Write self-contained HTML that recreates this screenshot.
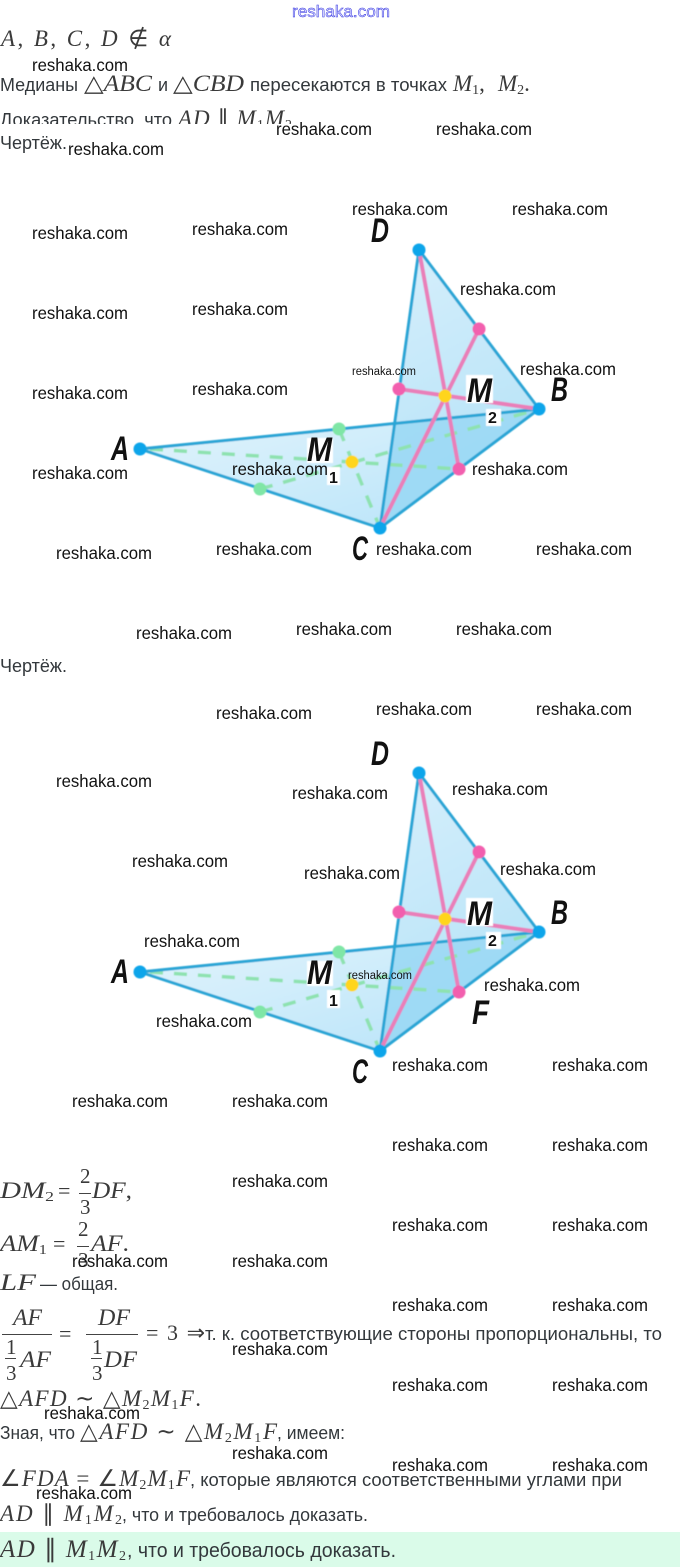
<!DOCTYPE html>
<html><head><meta charset="utf-8"><style>
html,body{margin:0;padding:0;background:#fff}
svg{display:block}
.w{font:17.5px "Liberation Sans",sans-serif;fill:#111}
.s{font:11.5px "Liberation Sans",sans-serif;fill:#111}
.t{font:18px "Liberation Sans",sans-serif;fill:#33383c}
.b{font:20px "Liberation Sans",sans-serif;fill:#33383c}
.m{font:italic 23px "Liberation Serif",serif;fill:#3a3a3a}
.h{font:italic 25px "Liberation Serif",serif;fill:#3a3a3a}
.r{font:22px "Liberation Serif",serif;fill:#3a3a3a}
.g{font:21px "Liberation Serif",serif;fill:#3a3a3a}
.u{font-size:14px;font-style:normal}
.o{font-style:normal}
.l{font:italic bold 34px "Liberation Sans",sans-serif;fill:#111}
.n{font:bold 16px "Liberation Sans",sans-serif;fill:#111}
</style></head><body>
<svg xmlns="http://www.w3.org/2000/svg" width="680" height="1567" viewBox="0 0 680 1567">
<defs>
<filter id="bl" x="-5%" y="-5%" width="110%" height="110%"><feGaussianBlur stdDeviation="0.45"/></filter>
<linearGradient id="a" x1="0" y1="0" x2="1" y2="1"><stop offset="0" stop-color="#e4f5fd"/><stop offset="1" stop-color="#b5e2f8"/></linearGradient>
<linearGradient id="b" x1="0.3" y1="0" x2="0.6" y2="1"><stop offset="0" stop-color="#d4eefb"/><stop offset="1" stop-color="#b2e1f7"/></linearGradient>
<g id="dg" filter="url(#bl)">
<polygon points="140,449 539,409 380,528" fill="url(#a)"/>
<polygon points="419,250 539,409 380,528" fill="url(#b)"/>
<polygon points="396,424 539,409 380,528" fill="#8fd4f3" fill-opacity=".65"/>
<g fill="none" stroke="#8ee2b0" stroke-width="3.5" stroke-dasharray="13 11">
<line x1="150" y1="449" x2="459" y2="469"/><line x1="339" y1="429" x2="380" y2="528"/><line x1="260" y1="489" x2="539" y2="409"/>
</g>
<g stroke="#29a5d5" stroke-width="3" fill="none">
<line x1="140" y1="449" x2="539" y2="409"/><line x1="140" y1="449" x2="380" y2="528"/><line x1="380" y1="528" x2="539" y2="409"/><line x1="419" y1="250" x2="380" y2="528"/><line x1="419" y1="250" x2="539" y2="409"/>
</g>
<g stroke="#e97fb9" stroke-width="4" fill="none">
<line x1="419" y1="250" x2="459" y2="469"/><line x1="380" y1="528" x2="479" y2="329"/><line x1="399" y1="389" x2="539" y2="409"/>
</g>
<g fill="#0ea5ea"><circle cx="140" cy="449" r="6.5"/><circle cx="539" cy="409" r="6.5"/><circle cx="380" cy="528" r="6.5"/><circle cx="419" cy="250" r="6.5"/></g>
<g fill="#7fe6a6"><circle cx="339" cy="429" r="6.5"/><circle cx="260" cy="489" r="6.5"/></g>
<g fill="#f25fae"><circle cx="479" cy="329" r="6.5"/><circle cx="399" cy="389" r="6.5"/><circle cx="459" cy="469" r="6.5"/></g>
<g fill="#ffd51a"><circle cx="352" cy="462" r="6.5"/><circle cx="445" cy="396" r="6.5"/></g>
<g fill="#fff"><rect x="466" y="375" width="27" height="28"/><rect x="486" y="409" width="15" height="17"/><rect x="307" y="438" width="26" height="25"/><rect x="327" y="467" width="13" height="18"/></g>
</g>
</defs>

<text x="292" y="17" style="font:17px 'Liberation Sans',sans-serif" fill="#dfe0ff" stroke="#3030e0" stroke-width=".5" textLength="98" lengthAdjust="spacingAndGlyphs">reshaka.com</text>

<text class="m" x="1" y="46" textLength="170" xml:space="preserve">A<tspan class="o">,</tspan> B<tspan class="o">,</tspan> C<tspan class="o">,</tspan> D <tspan class="o">∉</tspan> α</text>
<text class="t" x="0" y="91" textLength="78" lengthAdjust="spacingAndGlyphs">Медианы</text>
<text class="m" x="84" y="91" textLength="68" lengthAdjust="spacingAndGlyphs"><tspan class="o">△</tspan>ABC</text>
<text class="t" x="158" y="91">и</text>
<text class="m" x="173" y="91" textLength="71" lengthAdjust="spacingAndGlyphs"><tspan class="o">△</tspan>CBD</text>
<text class="t" x="250" y="91" textLength="197" lengthAdjust="spacingAndGlyphs">пересекаются в точках</text>
<text class="m" x="453" y="91">M<tspan class="u" dy="3">1</tspan><tspan class="o" dy="-3">,</tspan></text>
<text class="m" x="498" y="91">M<tspan class="u" dy="3">2</tspan><tspan class="o" dy="-3">.</tspan></text>
<text class="t" x="0" y="126" textLength="172" lengthAdjust="spacingAndGlyphs">Доказательство, что</text>
<text class="m" x="178" y="126" textLength="114">AD <tspan class="o">∥</tspan> M<tspan class="u" dy="3">1</tspan><tspan dy="-3">M</tspan><tspan class="u" dy="3">2</tspan></text>
<rect x="0" y="124" width="340" height="12" fill="#fff"/>
<text class="t" x="0" y="149" textLength="67" lengthAdjust="spacingAndGlyphs">Чертёж.</text>
<text class="t" x="0" y="672" textLength="67" lengthAdjust="spacingAndGlyphs">Чертёж.</text>

<use href="#dg"/>
<use href="#dg" y="523"/>

<g class="l">
<text x="371" y="242" textLength="18" lengthAdjust="spacingAndGlyphs">D</text>
<text x="111" y="460" textLength="18" lengthAdjust="spacingAndGlyphs">A</text>
<text x="551" y="401" textLength="17" lengthAdjust="spacingAndGlyphs">B</text>
<text x="352" y="560" textLength="16" lengthAdjust="spacingAndGlyphs">C</text>
<text x="467" y="402" textLength="25" lengthAdjust="spacingAndGlyphs">M</text>
<text x="307" y="461" textLength="25" lengthAdjust="spacingAndGlyphs">M</text>
<text x="371" y="765" textLength="18" lengthAdjust="spacingAndGlyphs">D</text>
<text x="111" y="983" textLength="18" lengthAdjust="spacingAndGlyphs">A</text>
<text x="551" y="924" textLength="17" lengthAdjust="spacingAndGlyphs">B</text>
<text x="352" y="1083" textLength="16" lengthAdjust="spacingAndGlyphs">C</text>
<text x="467" y="925" textLength="25" lengthAdjust="spacingAndGlyphs">M</text>
<text x="307" y="984" textLength="25" lengthAdjust="spacingAndGlyphs">M</text>
<text x="472" y="1024" textLength="17" lengthAdjust="spacingAndGlyphs">F</text>
</g>
<g class="n">
<text x="488" y="423">2</text><text x="329" y="483">1</text>
<text x="488" y="946">2</text><text x="329" y="1006">1</text>
</g>

<!-- formulas -->
<text class="m" x="0" y="1198" textLength="54" lengthAdjust="spacingAndGlyphs">DM<tspan class="u" dy="3">2</tspan></text>
<text class="r" x="58" y="1198">=</text>
<text class="g" x="80" y="1183">2</text><rect x="79" y="1193" width="12" height="1" fill="#444"/><text class="g" x="80" y="1214">3</text>
<text class="m" x="92" y="1198" textLength="40" lengthAdjust="spacingAndGlyphs">DF<tspan class="o">,</tspan></text>

<text class="m" x="0" y="1251" textLength="47" lengthAdjust="spacingAndGlyphs">AM<tspan class="u" dy="3">1</tspan></text>
<text class="r" x="53" y="1251">=</text>
<text class="g" x="78" y="1236">2</text><rect x="77" y="1246" width="12" height="1" fill="#444"/><text class="g" x="78" y="1267">3</text>
<text class="m" x="91" y="1251" textLength="38" lengthAdjust="spacingAndGlyphs">AF<tspan class="o">.</tspan></text>

<text class="m" x="0" y="1290" textLength="36" lengthAdjust="spacingAndGlyphs">LF</text>
<text class="t" x="40" y="1290" textLength="78" lengthAdjust="spacingAndGlyphs">— общая.</text>

<text class="m" x="13" y="1325" textLength="29" lengthAdjust="spacingAndGlyphs">AF</text><rect x="2" y="1334" width="50" height="1" fill="#444"/>
<text class="g" x="6" y="1354">1</text><rect x="5" y="1358" width="11" height="1" fill="#444"/><text class="g" x="6" y="1380">3</text><text class="m" x="20" y="1367" textLength="31" lengthAdjust="spacingAndGlyphs">AF</text>
<text class="r" x="59" y="1341">=</text>
<text class="m" x="98" y="1325" textLength="32" lengthAdjust="spacingAndGlyphs">DF</text><rect x="86" y="1334" width="52" height="1" fill="#444"/>
<text class="g" x="92" y="1354">1</text><rect x="91" y="1358" width="11" height="1" fill="#444"/><text class="g" x="92" y="1380">3</text><text class="m" x="104" y="1367" textLength="33" lengthAdjust="spacingAndGlyphs">DF</text>
<text class="r" x="146" y="1340" textLength="59">= 3 ⇒</text>
<text class="t" x="205" y="1340" textLength="457" lengthAdjust="spacingAndGlyphs">т. к. соответствующие стороны пропорциональны, то</text>

<text class="m" x="0" y="1406" textLength="201"><tspan class="o">△</tspan>AFD <tspan class="o">∼</tspan> <tspan class="o">△</tspan>M<tspan class="u" dy="3">2</tspan><tspan dy="-3">M</tspan><tspan class="u" dy="3">1</tspan><tspan dy="-3">F</tspan><tspan class="o">.</tspan></text>

<text class="t" x="0" y="1439" textLength="75" lengthAdjust="spacingAndGlyphs">Зная, что</text>
<text class="m" x="80" y="1439" textLength="197"><tspan class="o">△</tspan>AFD <tspan class="o">∼</tspan> <tspan class="o">△</tspan>M<tspan class="u" dy="3">2</tspan><tspan dy="-3">M</tspan><tspan class="u" dy="3">1</tspan><tspan dy="-3">F</tspan></text>
<text class="t" x="277" y="1439" textLength="68" lengthAdjust="spacingAndGlyphs">, имеем:</text>

<text class="m" x="0" y="1486" textLength="190"><tspan class="o">∠</tspan>FDA <tspan class="o">=</tspan> <tspan class="o">∠</tspan>M<tspan class="u" dy="3">2</tspan><tspan dy="-3">M</tspan><tspan class="u" dy="3">1</tspan><tspan dy="-3">F</tspan></text>
<text class="t" x="190" y="1486" textLength="432" lengthAdjust="spacingAndGlyphs">, которые являются соответственными углами при</text>

<text class="m" x="0" y="1521" textLength="122">AD <tspan class="o">∥</tspan> M<tspan class="u" dy="3">1</tspan><tspan dy="-3">M</tspan><tspan class="u" dy="3">2</tspan></text>
<text class="t" x="122" y="1521" textLength="246" lengthAdjust="spacingAndGlyphs">, что и требовалось доказать.</text>

<rect x="0" y="1532" width="680" height="35" fill="#dafbe9"/>
<text class="h" x="0" y="1557" textLength="126">AD <tspan class="o">∥</tspan> M<tspan class="u" dy="3">1</tspan><tspan dy="-3">M</tspan><tspan class="u" dy="3">2</tspan></text>
<text class="b" x="127" y="1557" textLength="269" lengthAdjust="spacingAndGlyphs">, что и требовалось доказать.</text>

<!-- watermarks -->
<g class="w" transform="translate(0,1)">
<text x="32" y="70" textLength="96" lengthAdjust="spacingAndGlyphs">reshaka.com</text>
<text x="276" y="134" textLength="96" lengthAdjust="spacingAndGlyphs">reshaka.com</text>
<text x="436" y="134" textLength="96" lengthAdjust="spacingAndGlyphs">reshaka.com</text>
<text x="68" y="154" textLength="96" lengthAdjust="spacingAndGlyphs">reshaka.com</text>
<text x="352" y="214" textLength="96" lengthAdjust="spacingAndGlyphs">reshaka.com</text>
<text x="512" y="214" textLength="96" lengthAdjust="spacingAndGlyphs">reshaka.com</text>
<text x="32" y="238" textLength="96" lengthAdjust="spacingAndGlyphs">reshaka.com</text>
<text x="192" y="234" textLength="96" lengthAdjust="spacingAndGlyphs">reshaka.com</text>
<text x="460" y="294" textLength="96" lengthAdjust="spacingAndGlyphs">reshaka.com</text>
<text x="32" y="318" textLength="96" lengthAdjust="spacingAndGlyphs">reshaka.com</text>
<text x="192" y="314" textLength="96" lengthAdjust="spacingAndGlyphs">reshaka.com</text>
<text x="520" y="374" textLength="96" lengthAdjust="spacingAndGlyphs">reshaka.com</text>
<text x="32" y="398" textLength="96" lengthAdjust="spacingAndGlyphs">reshaka.com</text>
<text x="192" y="394" textLength="96" lengthAdjust="spacingAndGlyphs">reshaka.com</text>
<text x="232" y="474" textLength="96" lengthAdjust="spacingAndGlyphs">reshaka.com</text>
<text x="472" y="474" textLength="96" lengthAdjust="spacingAndGlyphs">reshaka.com</text>
<text x="32" y="478" textLength="96" lengthAdjust="spacingAndGlyphs">reshaka.com</text>
<text x="56" y="558" textLength="96" lengthAdjust="spacingAndGlyphs">reshaka.com</text>
<text x="216" y="554" textLength="96" lengthAdjust="spacingAndGlyphs">reshaka.com</text>
<text x="376" y="554" textLength="96" lengthAdjust="spacingAndGlyphs">reshaka.com</text>
<text x="536" y="554" textLength="96" lengthAdjust="spacingAndGlyphs">reshaka.com</text>
<text x="136" y="638" textLength="96" lengthAdjust="spacingAndGlyphs">reshaka.com</text>
<text x="296" y="634" textLength="96" lengthAdjust="spacingAndGlyphs">reshaka.com</text>
<text x="456" y="634" textLength="96" lengthAdjust="spacingAndGlyphs">reshaka.com</text>
<text x="216" y="718" textLength="96" lengthAdjust="spacingAndGlyphs">reshaka.com</text>
<text x="376" y="714" textLength="96" lengthAdjust="spacingAndGlyphs">reshaka.com</text>
<text x="536" y="714" textLength="96" lengthAdjust="spacingAndGlyphs">reshaka.com</text>
<text x="56" y="786" textLength="96" lengthAdjust="spacingAndGlyphs">reshaka.com</text>
<text x="452" y="794" textLength="96" lengthAdjust="spacingAndGlyphs">reshaka.com</text>
<text x="292" y="798" textLength="96" lengthAdjust="spacingAndGlyphs">reshaka.com</text>
<text x="132" y="866" textLength="96" lengthAdjust="spacingAndGlyphs">reshaka.com</text>
<text x="500" y="874" textLength="96" lengthAdjust="spacingAndGlyphs">reshaka.com</text>
<text x="304" y="878" textLength="96" lengthAdjust="spacingAndGlyphs">reshaka.com</text>
<text x="144" y="946" textLength="96" lengthAdjust="spacingAndGlyphs">reshaka.com</text>
<text x="484" y="990" textLength="96" lengthAdjust="spacingAndGlyphs">reshaka.com</text>
<text x="156" y="1026" textLength="96" lengthAdjust="spacingAndGlyphs">reshaka.com</text>
<text x="392" y="1070" textLength="96" lengthAdjust="spacingAndGlyphs">reshaka.com</text>
<text x="552" y="1070" textLength="96" lengthAdjust="spacingAndGlyphs">reshaka.com</text>
<text x="72" y="1106" textLength="96" lengthAdjust="spacingAndGlyphs">reshaka.com</text>
<text x="232" y="1106" textLength="96" lengthAdjust="spacingAndGlyphs">reshaka.com</text>
<text x="392" y="1150" textLength="96" lengthAdjust="spacingAndGlyphs">reshaka.com</text>
<text x="552" y="1150" textLength="96" lengthAdjust="spacingAndGlyphs">reshaka.com</text>
<text x="232" y="1186" textLength="96" lengthAdjust="spacingAndGlyphs">reshaka.com</text>
<text x="392" y="1230" textLength="96" lengthAdjust="spacingAndGlyphs">reshaka.com</text>
<text x="552" y="1230" textLength="96" lengthAdjust="spacingAndGlyphs">reshaka.com</text>
<text x="72" y="1266" textLength="96" lengthAdjust="spacingAndGlyphs">reshaka.com</text>
<text x="232" y="1266" textLength="96" lengthAdjust="spacingAndGlyphs">reshaka.com</text>
<text x="392" y="1310" textLength="96" lengthAdjust="spacingAndGlyphs">reshaka.com</text>
<text x="552" y="1310" textLength="96" lengthAdjust="spacingAndGlyphs">reshaka.com</text>
<text x="232" y="1354" textLength="96" lengthAdjust="spacingAndGlyphs">reshaka.com</text>
<text x="392" y="1390" textLength="96" lengthAdjust="spacingAndGlyphs">reshaka.com</text>
<text x="552" y="1390" textLength="96" lengthAdjust="spacingAndGlyphs">reshaka.com</text>
<text x="44" y="1418" textLength="96" lengthAdjust="spacingAndGlyphs">reshaka.com</text>
<text x="232" y="1458" textLength="96" lengthAdjust="spacingAndGlyphs">reshaka.com</text>
<text x="392" y="1470" textLength="96" lengthAdjust="spacingAndGlyphs">reshaka.com</text>
<text x="552" y="1470" textLength="96" lengthAdjust="spacingAndGlyphs">reshaka.com</text>
<text x="36" y="1498" textLength="96" lengthAdjust="spacingAndGlyphs">reshaka.com</text>
</g>
<g class="s">
<text x="352" y="375" textLength="64" lengthAdjust="spacingAndGlyphs">reshaka.com</text>
<text x="348" y="979" textLength="64" lengthAdjust="spacingAndGlyphs">reshaka.com</text>
</g>
</svg>
</body></html>
